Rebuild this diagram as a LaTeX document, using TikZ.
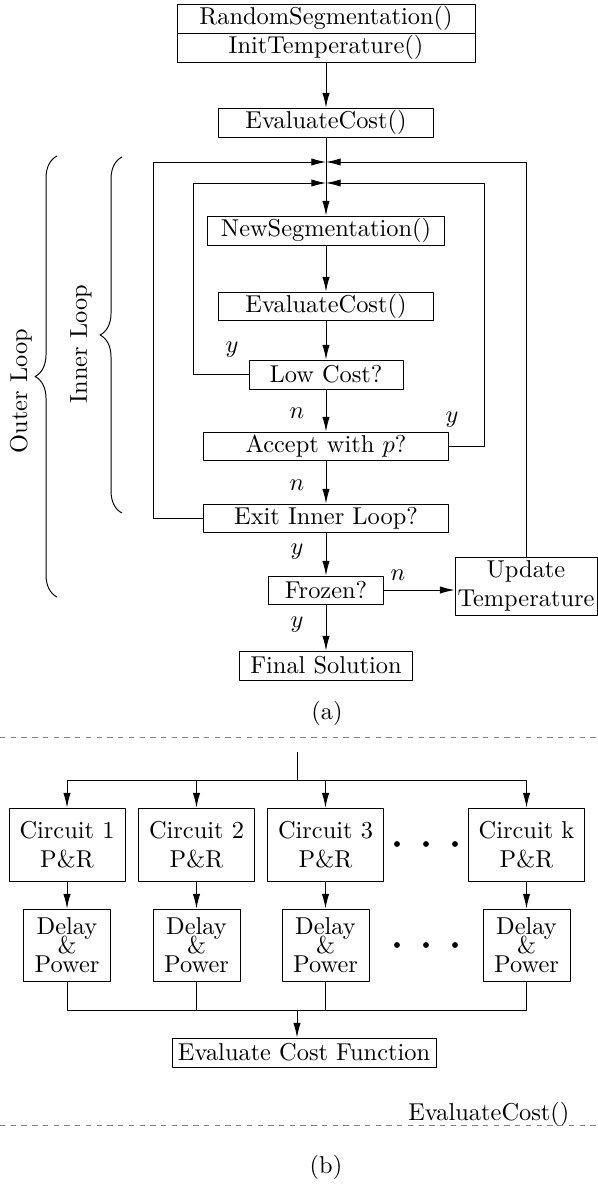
\documentclass[tikz,border=0pt]{standalone}
\usetikzlibrary{arrows.meta,decorations.pathreplacing}
\begin{document}
\begin{tikzpicture}[x=0.41pt,y=-0.41pt,>={Latex[length=6pt,width=3pt]},line join=round,
	box/.style={draw,inner sep=0pt,align=center,minimum height=29*0.41pt},
	w/.style={minimum width=#1*0.41pt}, h/.style={minimum height=#1*0.41pt},
	brc/.style={decorate,decoration={brace,amplitude=9pt}},
	sep/.style={gray,dash pattern=on 2.2pt off 2.2pt}]
	\useasboundingbox (0,0) rectangle (597,1184);
	% (a) annealing loop
	\node[box,w=298] (rseg) at (326,18.5) {RandomSegmentation()};
	\node[box,w=298] (itemp) at (326,47.5) {InitTemperature()};
	\node[box,w=215] (ecost1) at (326,122.5) {EvaluateCost()};
	\coordinate (jo) at (326,162); \coordinate (ji) at (326,183);
	\coordinate (outL) at (153,162); \coordinate (inL) at (193,183); \coordinate (inR) at (484,183);
	\node[box,w=237] (newseg) at (326,230.5) {NewSegmentation()};
	\node[box,w=215,h=28] (ecost2) at (326,306) {EvaluateCost()};
	\node[box,w=154] (lowcost) at (326,374.5) {Low Cost?};
	\node[box,w=245,h=28] (accept) at (326,446) {Accept with $p$?};
	\node[box,w=245,h=28] (exitin) at (326,518) {Exit Inner Loop?};
	\node[box,w=115,h=28] (frozen) at (326,590) {Frozen?};
	\node[box,w=142,h=58] (update) at (526,586) {Update\\Temperature};
	\node[box,w=173] (final) at (326,665.5) {Final Solution};
	\draw[->] (itemp) -- (ecost1);
	\draw[->] (ecost1) -- (newseg);
	\draw[->] (newseg) -- (ecost2);
	\draw[->] (ecost2) -- (lowcost);
	\draw[->] (lowcost) -- (accept);
	\draw[->] (accept) -- (exitin);
	\draw[->] (exitin) -- (frozen);
	\draw[->] (frozen) -- (final);
	\draw[->] (frozen.east) -- (update.west |- frozen.east);
	\draw[->] (update) |- (jo);
	\draw[->] (exitin) -| (outL) -- (jo);
	\draw[->] (lowcost) -| (inL) -- (ji);
	\draw[->] (accept) -| (inR) -- (ji);
	\node (ly1) at (232,350) {$y$};
	\node (ln1) at (297,413) {$n$};
	\node (ly2) at (452,420) {$y$};
	\node (ln2) at (297,485) {$n$};
	\node (ly3) at (297,552) {$y$};
	\node (ln3) at (398,575) {$n$};
	\node (ly4) at (297,625) {$y$};
	% loop braces
	\draw[brc] (57,597) -- (57,156);
	\node[rotate=90] (outer) at (21,391) {Outer Loop};
	\draw[brc] (122,513) -- (122,157);
	\node[rotate=90] (inner) at (81,344) {Inner Loop};
	\node (capa) at (327,713) {(a)};
	\draw[sep] (0,737) -- (597,737);
	% (b) cost evaluation
	\coordinate (btop) at (297,752); \coordinate (bsplit) at (297,780); \coordinate (bjoin) at (297,1010);
	\draw (btop) -- (bsplit);
	\foreach \i/\x in {1/67,2/196.5,3/325.5,k/526.5}{
		\node[box,w=116,h=73] (c\i) at (\x,844.5) {Circuit \i\\P\&R};
		\node[box,w=87,h=72] (d\i) at (\x,945) {Delay\\[-4.2pt]\&\\[-4.2pt]Power};
		\draw[->] (bsplit) -| (c\i);
		\draw[->] (c\i) -- (d\i);
		\draw (d\i) |- (bjoin);
	}
	\foreach \x in {397,426,455} \fill (\x,844) circle (1.2pt) (\x,945) circle (1.2pt);
	\node[box,w=264] (efun) at (304,1052.5) {Evaluate Cost Function};
	\draw[->] (bjoin) -- (bjoin |- efun.north);
	\node[anchor=base east] (ecname) at (578,1120) {EvaluateCost()};
	\draw[sep] (0,1125) -- (597,1125);
	\node (capb) at (326,1167) {(b)};
\end{tikzpicture}
\end{document}
